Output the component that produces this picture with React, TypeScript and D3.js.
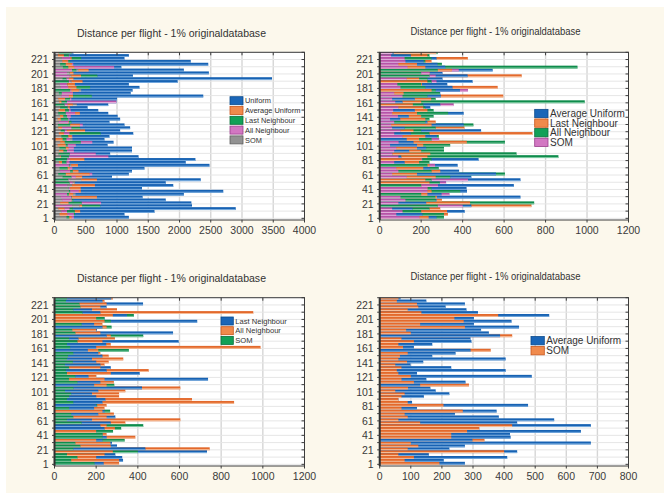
import React from 'react';
import * as d3 from 'd3';

// Each value is one group of four consecutive cases (1-4, 5-8, ... 229-232)
const groupStarts: number[] = d3.range(58).map((k) => 4 * k + 1);

const uniform = [
  1190, 1120, 1600, 2900, 2200, 2190, 1780, 1410, 2070, 2700,
  1400, 1900, 1780, 2340, 920, 1190, 1240, 1440, 2480, 2100,
  2255, 1345, 890, 1240, 1240, 850, 945, 800, 880, 1260,
  1050, 1210, 1120, 880, 1050, 1010, 860, 700, 530, 860,
  990, 1000, 2380, 1220, 1250, 1360, 1190, 1970, 3480, 1255,
  2470, 2070, 1070, 2460, 2180, 1120, 1190, 300,
];
const averageUniform = [
  274, 206, 410, 158, 442, 224, 274, 679, 298, 421,
  419, 647, 320, 679, 442, 561, 383, 242, 376, 120,
  477, 104, 60, 142, 224, 180, 163, 130, 276, 150,
  489, 120, 405, 230, 99, 140, 405, 169, 244, 292,
  110, 169, 295, 292, 387, 351, 326, 448, 303, 424,
  303, 545, 316, 279, 212, 274, 150, 67,
];
const lastNeighbour = [
  236, 329, 325, 292, 732, 436, 300, 276, 230, 250,
  230, 200, 240, 220, 270, 180, 292, 210, 240, 190,
  200, 230, 244, 200, 180, 210, 420, 190, 220, 737,
  163, 409, 250, 270, 220, 200, 180, 230, 210, 160,
  200, 248, 596, 115, 250, 569, 204, 230, 190, 685,
  240, 348, 220, 180, 250, 425, 230, 272,
];
const allNeighbour = [
  310, 310, 200, 240, 280, 745, 270, 268, 200, 388,
  250, 200, 290, 250, 340, 604, 250, 285, 230, 240,
  250, 862, 660, 310, 310, 340, 604, 250, 285, 240,
  200, 270, 452, 220, 240, 260, 330, 260, 220, 210,
  989, 270, 230, 290, 270, 220, 200, 250, 230, 240,
  200, 280, 954, 300, 220, 250, 240, 280,
];
const som = [
  192, 80, 110, 60, 400, 90, 124, 100, 337, 230,
  230, 281, 320, 426, 130, 60, 90, 80, 267, 70,
  205, 90, 60, 70, 80, 50, 91, 287, 110, 70,
  100, 60, 55, 70, 50, 88, 60, 65, 90, 357,
  75, 60, 110, 70, 426, 100, 85, 274, 130, 270,
  240, 381, 134, 90, 124, 120, 55, 60,
];

const yTickLabels = [1, 21, 41, 61, 81, 101, 121, 141, 161, 181, 201, 221];
const minorCases = d3.range(1, 232, 10);
const titleText = 'Distance per flight - 1% originaldatabase';

const C = {
  blue: { fill: '#1762b3', light: '#7fb1e2', box: '#1a66b8', edge: '#0c4a8c' },
  orange: { fill: '#e3692c', light: '#f9c6a3', box: '#f08a4c', edge: '#c8561c' },
  green: { fill: '#0f8c4c', light: '#86cfa8', box: '#12a057', edge: '#0a6e3a' },
  magenta: { fill: '#b653a7', light: '#ebbde4', box: '#d277c2', edge: '#9a3f8c' },
  gray: { fill: '#7d7d7d', light: '#d2d2d2', box: '#929292', edge: '#5e5e5e' },
};

type Series = { name: string; values: number[]; color: keyof typeof C };

const panels = [
  {
    id: 'tl',
    left: 54.5, right: 304.5, top: 52.3, bottom: 220,
    xTicks: d3.range(0, 4001, 500),
    title: { x: 171.5, y: 37, len: 189, size: 11 },
    legend: { x: 230, y: 100.7, dy: 9.8, w: 13, h: 8, size: 7.4 },
    series: [
      { name: 'Uniform', values: uniform, color: 'blue' },
      { name: 'Average Uniform', values: averageUniform, color: 'orange' },
      { name: 'Last Neighbour', values: lastNeighbour, color: 'green' },
      { name: 'All Neighbour', values: allNeighbour, color: 'magenta' },
      { name: 'SOM', values: som, color: 'gray' },
    ] as Series[],
  },
  {
    id: 'tr',
    left: 379.7, right: 628.5, top: 52.3, bottom: 220,
    xTicks: d3.range(0, 1201, 200),
    title: { x: 495.5, y: 34.5, len: 170, size: 10 },
    legend: { x: 534.7, y: 113.5, dy: 9.6, w: 13.3, h: 8.3, size: 10 },
    series: [
      { name: 'Average Uniform', values: averageUniform, color: 'blue' },
      { name: 'Last Neighbour', values: lastNeighbour, color: 'orange' },
      { name: 'All Neighbour', values: allNeighbour, color: 'green' },
      { name: 'SOM', values: som, color: 'magenta' },
    ] as Series[],
  },
  {
    id: 'bl',
    left: 54.5, right: 304.5, top: 297.7, bottom: 466,
    xTicks: d3.range(0, 1201, 200),
    title: { x: 171.5, y: 282, len: 189, size: 11 },
    legend: { x: 221, y: 321, dy: 9.7, w: 12.3, h: 8, size: 7.6 },
    series: [
      { name: 'Last Neighbour', values: lastNeighbour, color: 'blue' },
      { name: 'All Neighbour', values: allNeighbour, color: 'orange' },
      { name: 'SOM', values: som, color: 'green' },
    ] as Series[],
  },
  {
    id: 'br',
    left: 379.7, right: 628.5, top: 297.7, bottom: 466,
    xTicks: d3.range(0, 801, 100),
    title: { x: 495.5, y: 279.5, len: 170, size: 10 },
    legend: { x: 531, y: 340.7, dy: 10, w: 13.3, h: 8.3, size: 10 },
    series: [
      { name: 'Average Uniform', values: averageUniform, color: 'blue' },
      { name: 'SOM', values: som, color: 'orange' },
    ] as Series[],
  },
];

const FONT = '"Liberation Sans", Arial, sans-serif';

function Panel({ p }: { p: (typeof panels)[number] }) {
  const xMax = p.xTicks[p.xTicks.length - 1];
  const x = d3.scaleLinear().domain([0, xMax]).range([p.left, p.right]);
  const y = d3.scaleLinear().domain([-1.3, 231]).range([p.bottom, p.top]);
  const clipId = `clip-${p.id}`;

  const rows = groupStarts.map((start, k) => {
    const y0 = y(start + 3.5);
    const y1 = y(start - 0.5);
    const items = p.series
      .map((s) => ({ v: s.values[k], c: C[s.color] }))
      .sort((a, b) => b.v - a.v);
    return { k, y0, h: y1 - y0, items };
  });

  return (
    <g>
      <text
        x={p.title.x}
        y={p.title.y}
        textAnchor="middle"
        fontSize={p.title.size}
        fill="#333"
        textLength={p.title.len}
        lengthAdjust="spacingAndGlyphs"
      >
        {titleText}
      </text>
      <clipPath id={clipId}>
        <rect x={p.left} y={p.top} width={p.right - p.left} height={p.bottom - p.top} />
      </clipPath>
      <rect x={p.left} y={p.top} width={p.right - p.left} height={p.bottom - p.top} fill="#ffffff" />
      {/* grid */}
      {p.xTicks.slice(1, -1).map((t) => (
        <line key={`gx${t}`} x1={x(t)} x2={x(t)} y1={p.top} y2={p.bottom} stroke="#d6d6d6" strokeWidth={1.4} />
      ))}
      {minorCases.map((c) => (
        <line key={`gy${c}`} x1={p.left} x2={p.right} y1={y(c)} y2={y(c)} stroke="#e6e6e6" strokeWidth={1} />
      ))}
      {/* bars */}
      <g clipPath={`url(#${clipId})`}>
        {rows.map((r) =>
          r.items.map((it, i) => (
            <g key={`b${r.k}-${i}`}>
              <rect x={x(0)} y={r.y0} width={x(it.v) - x(0)} height={r.h} fill={it.c.fill} />
              <rect x={x(0)} y={r.y0 + r.h - 1.0} width={x(it.v) - x(0)} height={0.9} fill={it.c.light} />
            </g>
          ))
        )}
      </g>
      {/* frame */}
      <rect x={p.left} y={p.top} width={p.right - p.left} height={p.bottom - p.top} fill="none" stroke="#3c3c3c" strokeWidth={1} />
      <line x1={p.left} x2={p.left} y1={p.top} y2={p.bottom} stroke="#2f2f2f" strokeWidth={2} />
      {minorCases.map((c) => (
        <g key={`ty${c}`}>
          <line x1={p.right} x2={p.right - 3} y1={y(c)} y2={y(c)} stroke="#3c3c3c" />
          <line x1={p.left} x2={p.left - 2.5} y1={y(c)} y2={y(c)} stroke="#3c3c3c" />
        </g>
      ))}
      {p.xTicks.map((t) => (
        <g key={`tx${t}`}>
          <line x1={x(t)} x2={x(t)} y1={p.top} y2={p.top + 3} stroke="#3c3c3c" />
          <line x1={x(t)} x2={x(t)} y1={p.bottom} y2={p.bottom + 2.5} stroke="#3c3c3c" />
          <text x={x(t)} y={p.bottom + 14} textAnchor="middle" fontSize={10.5} fill="#3a3a3a">
            {t}
          </text>
        </g>
      ))}
      {yTickLabels.map((c) => (
        <text key={`yl${c}`} x={p.left - 6} y={y(c) + 3.7} textAnchor="end" fontSize={10.5} fill="#3a3a3a">
          {c}
        </text>
      ))}
      {/* legend */}
      {p.series.map((s, i) => {
        const cy = p.legend.y + i * p.legend.dy;
        const col = C[s.color];
        return (
          <g key={`lg${i}`}>
            <rect
              x={p.legend.x}
              y={cy - p.legend.h / 2}
              width={p.legend.w}
              height={p.legend.h}
              fill={col.box}
              stroke={col.edge}
              strokeWidth={0.8}
            />
            <text
              x={p.legend.x + p.legend.w + 2}
              y={cy + p.legend.size * 0.36}
              fontSize={p.legend.size}
              fill="#333"
            >
              {s.name}
            </text>
          </g>
        );
      })}
    </g>
  );
}

export default function App() {
  return (
    <svg
      width={664}
      height={499}
      style={{ position: 'absolute', left: 0, top: 0, display: 'block' }}
      fontFamily={FONT}
    >
      <rect x={0} y={0} width={664} height={499} fill="#ffffff" />
      <rect x={6} y={7} width={658} height={486} fill="#fcf8ec" />
      {panels.map((p) => (
        <Panel key={p.id} p={p} />
      ))}
    </svg>
  );
}
